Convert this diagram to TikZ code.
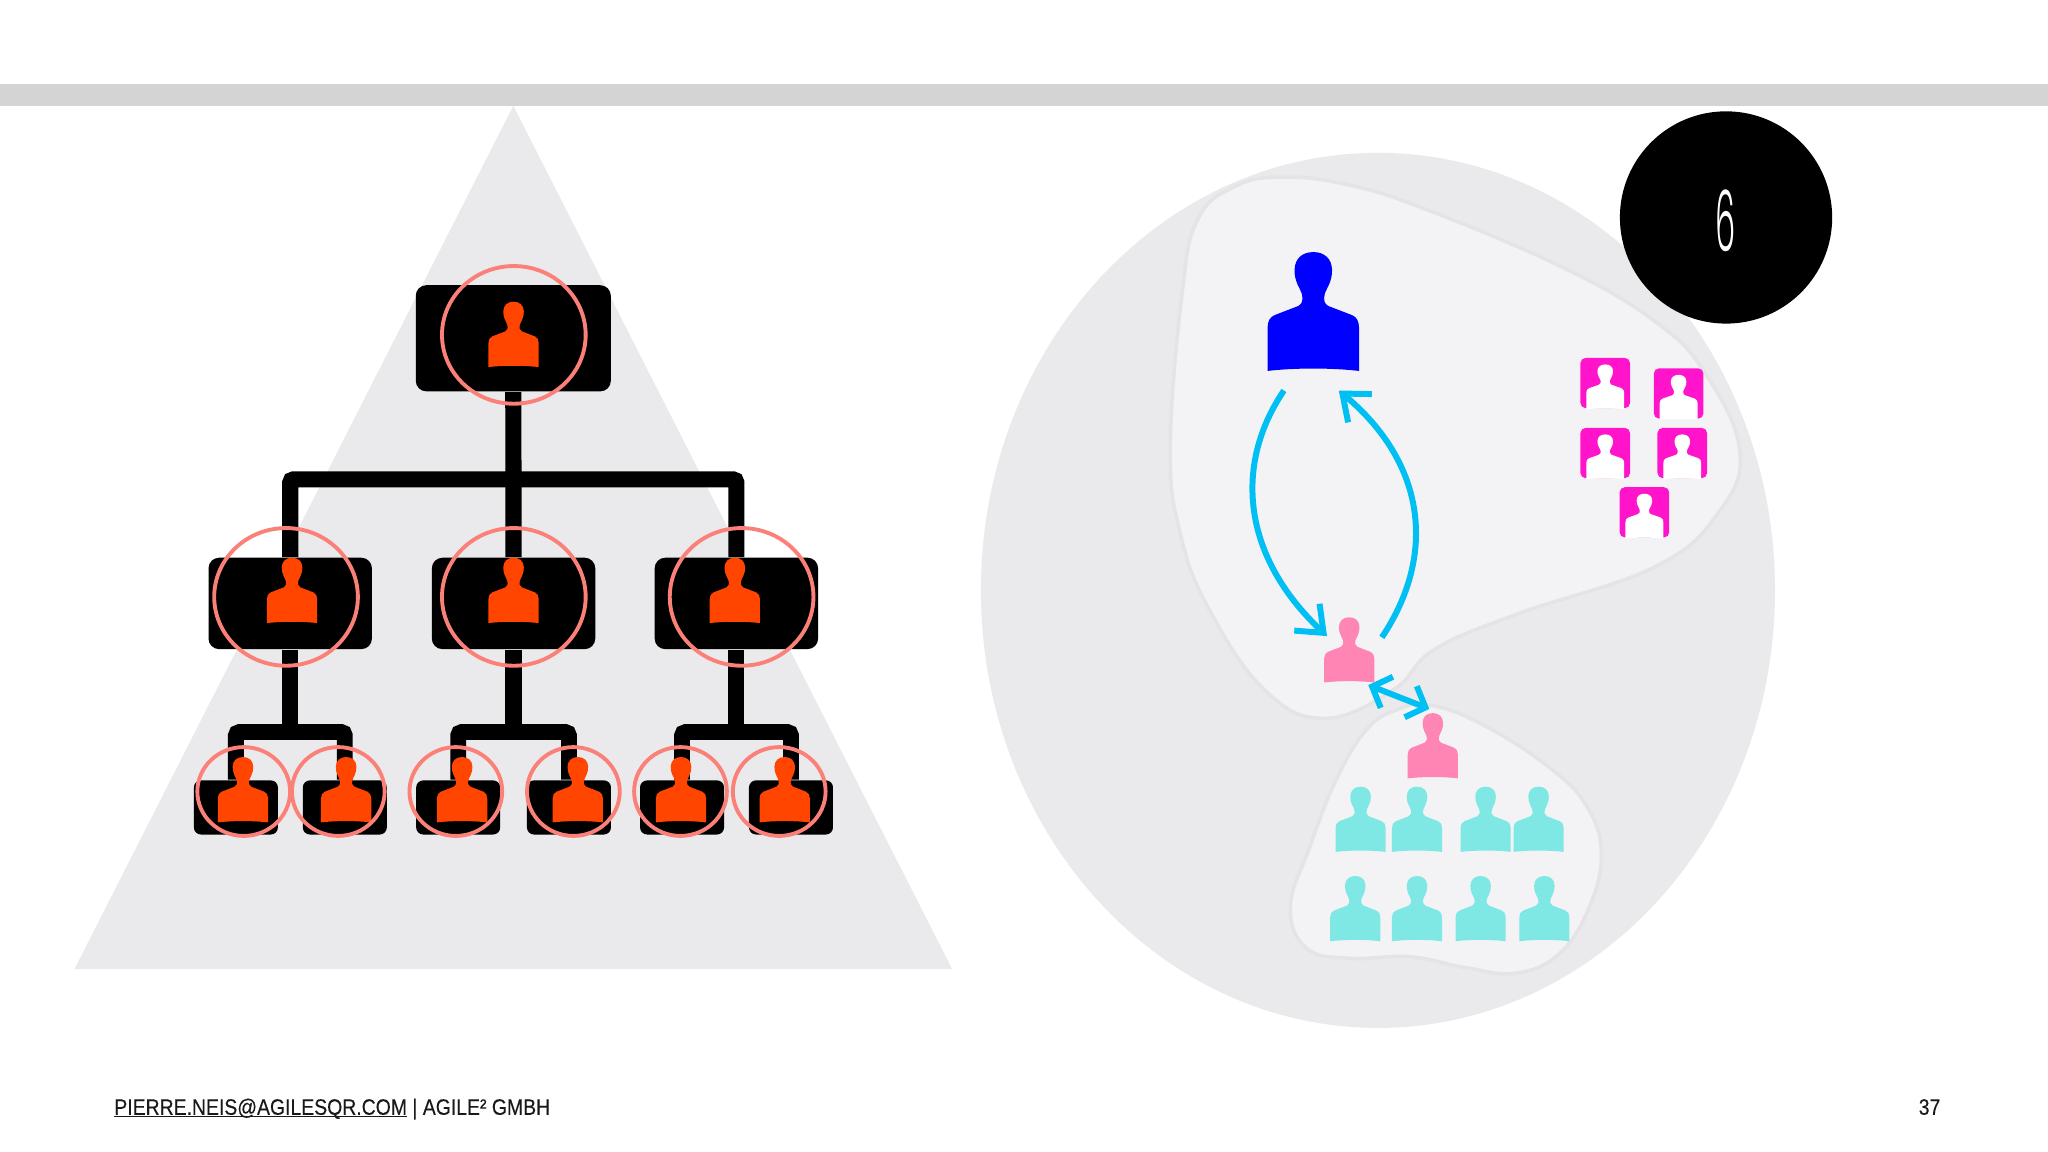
\documentclass[tikz,border=0pt]{standalone}
\usepackage{fontspec}
\setmainfont{Liberation Sans}
\newfontfamily\footfont{Liberation Sans}[FakeBold=0.22, FakeStretch=0.87]
\newfontfamily\sixfont{Poppins}[UprightFont=* Light]
\usetikzlibrary{arrows.meta}

\definecolor{barc}{HTML}{D4D4D4}
\definecolor{greyc}{HTML}{EAEAEC}
\definecolor{blobc}{HTML}{F3F3F5}
\definecolor{blobl}{HTML}{E4E4E6}
\definecolor{ringc}{HTML}{FA8078}
\definecolor{orangec}{HTML}{FF4500}
\definecolor{pinkc}{HTML}{FF85B5}
\definecolor{cyanc}{HTML}{7FE8E4}
\definecolor{magc}{HTML}{FF14CC}
\definecolor{flowc}{HTML}{00BFF2}

\newcommand{\mailline}[1]{\setbox0\hbox{#1}\rlap{\rule[-0.75pt]{\wd0}{0.3pt}}\box0\relax}

\begin{document}
\begin{tikzpicture}[
  x=0.013061cm, y=-0.013061cm,
  topbox/.style={fill=black, rounded corners=3pt, minimum width=55.5pt, minimum height=30.2pt, inner sep=0pt},
  midbox/.style={fill=black, rounded corners=3pt, minimum width=46.5pt, minimum height=26pt, inner sep=0pt},
  lowbox/.style={fill=black, rounded corners=2pt, minimum width=23.9pt, minimum height=15.4pt, inner sep=0pt},
  trunk/.style={line width=4.6pt, rounded corners=1pt},
  twig/.style={line width=4.5pt, rounded corners=1pt},
  ring/.style={draw=ringc, line width=1.1pt},
  blob/.style={fill=blobc, draw=blobl, line width=1pt},
  flow/.style={draw=flowc, line width=1.7pt, -{Straight Barb[length=6.5pt, width=10.5pt]}},
  swap/.style={draw=flowc, line width=1.7pt, {Straight Barb[length=4.5pt, width=9.5pt]}-{Straight Barb[length=4.5pt, width=9.5pt]}},
  foot/.style={anchor=base west, inner sep=0pt, text=black!90, font=\footfont\fontsize{6.35}{8}\selectfont},
  person/.pic={
    \fill [pic actions] (0,0) .. controls (24,0) and (40,14) .. (41,38)
      .. controls (42,65) and (28,80) .. (25,92) .. controls (22,105) and (24,113) .. (33,118)
      -- (85,138) .. controls (95,142) and (100,152) .. (100,165) -- (100,260)
      .. controls (40,253) and (-40,253) .. (-100,260) -- (-100,165)
      .. controls (-100,152) and (-95,142) .. (-85,138) -- (-33,118)
      .. controls (-24,113) and (-22,105) .. (-25,92) .. controls (-28,80) and (-42,65) .. (-41,38)
      .. controls (-40,14) and (-24,0) .. (0,0) -- cycle;
  },
  card/.pic={
    \fill [magc, rounded corners=1.5pt] (0,0) rectangle (38,38.5);
    \pic [fill=white, xscale=0.145, yscale=0.132] at (19,5) {person};
  }
]
\useasboundingbox (0,0) rectangle (1568,882);
\fill [white] (0,0) rectangle (1568,882);

% left side
\fill [barc] (0,64) rectangle (1568,81);
\fill [greyc] (393,81) -- (729,742) -- (57,742) -- cycle;

\node [topbox] (root) at (393,259) {};
\node [midbox] (mida) at (222.2,462) {};
\node [midbox] (midb) at (393.2,462) {};
\node [midbox] (midc) at (563.8,462) {};
\node [lowbox] (lowa) at (180.6,618.2) {};
\node [lowbox] (lowb) at (264,618.2) {};
\node [lowbox] (lowc) at (350.8,618.2) {};
\node [lowbox] (lowd) at (435.6,618.2) {};
\node [lowbox] (lowe) at (522.2,618.2) {};
\node [lowbox] (lowf) at (605.6,618.2) {};
\coordinate (rootbar) at (393,367);
\coordinate (barmida) at (222.2,560.5);
\coordinate (barmidb) at (393.2,560.5);
\coordinate (barmidc) at (563.8,560.5);

\draw [trunk] (mida.north) -- (mida.north |- rootbar) -- (midc.north |- rootbar) -- (midc.north);
\draw [trunk] (root.south) -- (midb.north);
\draw [trunk] (mida.south) -- (barmida);
\draw [trunk] (midb.south) -- (barmidb);
\draw [trunk] (midc.south) -- (barmidc);
\draw [twig] (lowa.north) -- (lowa.north |- barmida) -- (lowb.north |- barmida) -- (lowb.north);
\draw [twig] (lowc.north) -- (lowc.north |- barmidb) -- (lowd.north |- barmidb) -- (lowd.north);
\draw [twig] (lowe.north) -- (lowe.north |- barmidc) -- (lowf.north |- barmidc) -- (lowf.north);

\pic [fill=orangec, scale=0.1925] at (393.2,231) {person};
\pic [fill=orangec, scale=0.1925] at (223.6,427) {person};
\pic [fill=orangec, scale=0.1925] at (393.2,427) {person};
\pic [fill=orangec, scale=0.1925] at (562.6,427) {person};
\pic [fill=orangec, scale=0.1925] at (186,579.6) {person};
\pic [fill=orangec, scale=0.1925] at (265,579.6) {person};
\pic [fill=orangec, scale=0.1925] at (353.8,579.6) {person};
\pic [fill=orangec, scale=0.1925] at (442.4,579.6) {person};
\pic [fill=orangec, scale=0.1925] at (521.4,579.6) {person};
\pic [fill=orangec, scale=0.1925] at (600.8,579.6) {person};

\draw [ring] (393.4,256.4) ellipse [x radius=55, y radius=52.7];
\draw [ring] (219,457) ellipse [x radius=55, y radius=52.7];
\draw [ring] (393.4,457) ellipse [x radius=55, y radius=52.7];
\draw [ring] (567.8,457) ellipse [x radius=55, y radius=52.7];
\draw [ring] (186.6,606) ellipse [x radius=35.5, y radius=34];
\draw [ring] (259,606) ellipse [x radius=35.5, y radius=34];
\draw [ring] (349,606) ellipse [x radius=35.5, y radius=34];
\draw [ring] (439,606) ellipse [x radius=35.5, y radius=34];
\draw [ring] (521,606) ellipse [x radius=35.5, y radius=34];
\draw [ring] (596.6,606) ellipse [x radius=35.5, y radius=34];

% right side
\fill [greyc] (1055,452) ellipse [x radius=304, y radius=335];
\draw [blob] plot [smooth cycle, tension=0.7] coordinates {
  (980,135.6) (1030,141) (1091,160) (1197,205) (1267,246) (1305,285) (1332,345) (1316,392)
  (1267,434) (1162,470) (1098,497.4) (1067,528) (1014,550) (968,528) (926,467)
  (904,410) (896,343) (905,225) (917,168) (945,143)};
\draw [blob] plot [smooth cycle, tension=0.7] coordinates {
  (1095,540) (1135.7,555) (1186.7,588) (1215,617.6) (1226,653) (1217,694) (1194,730)
  (1161,745) (1123,741) (1079.5,732.5) (1033.6,733.7) (1000.4,726) (988,694)
  (1003,648) (1023,597) (1046,559) (1069,543.6)};
\node [circle, fill=black, minimum size=60.4pt, inner sep=0pt] (badge) at (1321.5,166.5) {};
\node [text=white, xscale=0.38, font=\sixfont\fontsize{24}{24}\selectfont] (six) at (1321.5,169) {6};

\pic [fill=blue, scale=0.35] at (1005.5,193) {person};
\pic [fill=pinkc, scale=0.192] at (1033,472.6) {person};
\pic [fill=pinkc, scale=0.192] at (1097,546) {person};
\pic [fill=cyanc, scale=0.192] at (1041.7,602.3) {person};
\pic [fill=cyanc, scale=0.192] at (1084.9,602.3) {person};
\pic [fill=cyanc, scale=0.192] at (1137.4,602.3) {person};
\pic [fill=cyanc, scale=0.192] at (1178,602.3) {person};
\pic [fill=cyanc, scale=0.192] at (1037.6,670.7) {person};
\pic [fill=cyanc, scale=0.192] at (1084.9,670.7) {person};
\pic [fill=cyanc, scale=0.192] at (1133.6,670.7) {person};
\pic [fill=cyanc, scale=0.192] at (1182.4,670.7) {person};

\pic at (1210,274) {card};
\pic at (1266.2,282) {card};
\pic at (1210,327.6) {card};
\pic at (1269,327.6) {card};
\pic at (1240,373) {card};

\coordinate (bossout) at (983,299);
\coordinate (bossin) at (1025,299);
\coordinate (leadin) at (1016,487);
\coordinate (leadout) at (1058,488);
\coordinate (swapa) at (1047.6,524.5);
\coordinate (swapb) at (1094.3,542.8);
\draw [flow] (bossout) .. controls (945,355) and (950,425) .. (leadin);
\draw [flow] (leadout) .. controls (1100,425) and (1092,355) .. (bossin);
\draw [swap] (swapa) -- (swapb);

% footer
\node [foot] (mail) at (87,853.5) {\mailline{PIERRE.NEIS@AGILESQR.COM} | AGILE² GMBH};
\node [foot] (page) at (1468.5,853.5) {37};
\end{tikzpicture}
\end{document}
